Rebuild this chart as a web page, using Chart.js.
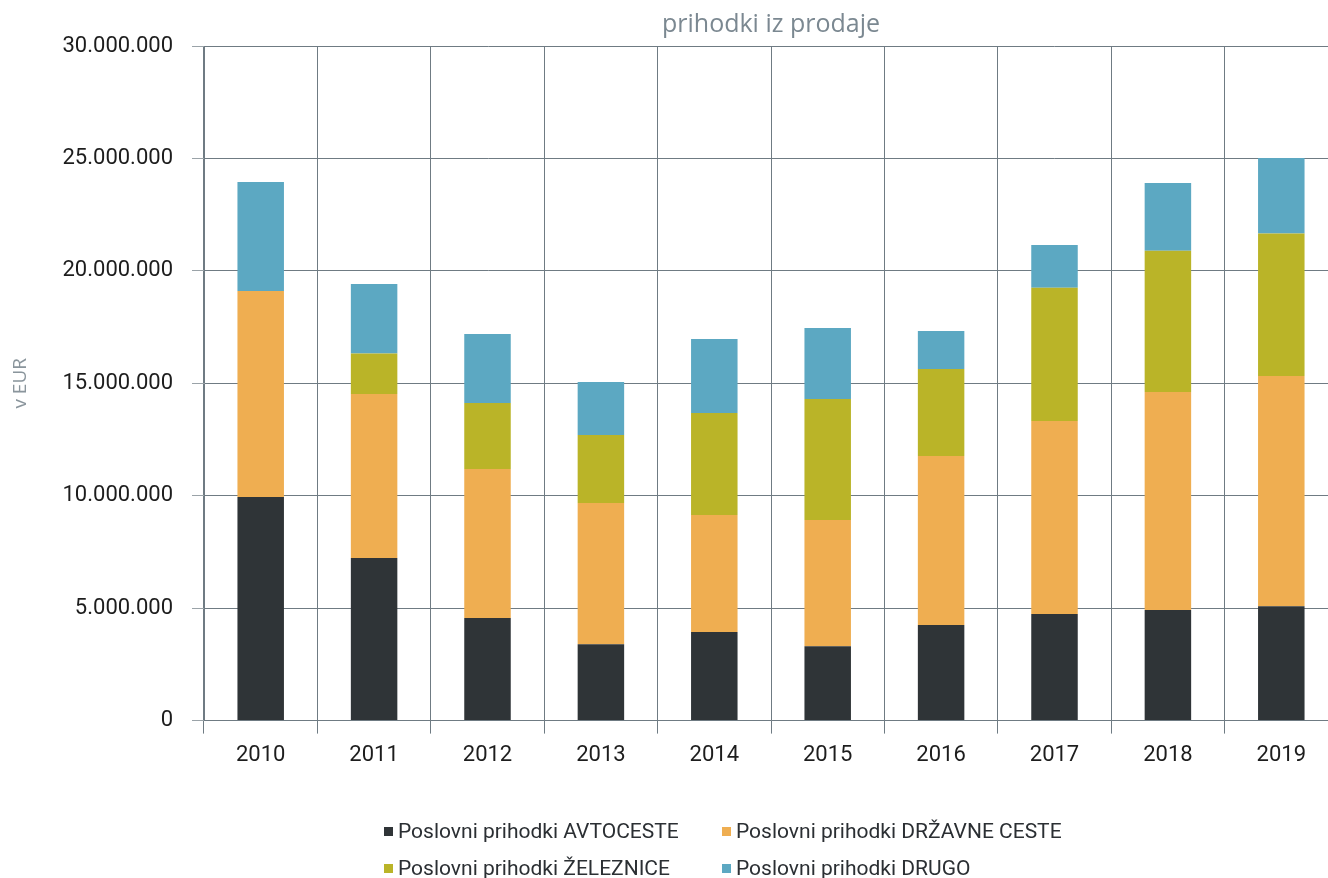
<!DOCTYPE html>
<html>
<head>
<meta charset="utf-8">
<script src="https://cdn.jsdelivr.net/npm/chart.js@4"></script>
<style>
  html, body { margin: 0; padding: 0; background: #fff; overflow: hidden; }
  #wrap { position: relative; width: 1340px; height: 878px; }
  #legend { position: absolute; left: 0; top: 0; width: 100%; height: 100%; pointer-events: none;
            font-family: Roboto, sans-serif; font-size: 21px; color: #2b2f33; }
  .li { position: absolute; display: flex; align-items: center; white-space: nowrap; height: 24px; }
  .li span.box { width: 9px; height: 9px; margin-right: 5px; display: inline-block; }
</style>
</head>
<body>
<div id="wrap">
  <canvas id="prodajaChart" width="1340" height="878"></canvas>
  <div id="legend"></div>
</div>
<script>
const years = ["2010", "2011", "2012", "2013", "2014", "2015", "2016", "2017", "2018", "2019"];
const avtoceste = [9940000, 7230000, 4560000, 3400000, 3940000, 3310000, 4250000, 4740000, 4920000, 5090000];
const drzavneCeste = [9170000, 7290000, 6630000, 6280000, 5200000, 5610000, 7520000, 8580000, 9690000, 10230000];
const zeleznice = [0, 1800000, 2930000, 3020000, 4540000, 5380000, 3870000, 5930000, 6280000, 6340000];
const drugo = [4840000, 3100000, 3070000, 2360000, 3290000, 3160000, 1690000, 1900000, 3020000, 3360000];
const seriesNames = [
  "Poslovni prihodki AVTOCESTE",
  "Poslovni prihodki DRŽAVNE CESTE",
  "Poslovni prihodki ŽELEZNICE",
  "Poslovni prihodki DRUGO"
];
const seriesColors = ["#2f3437", "#efae51", "#bab428", "#5ca8c2"];

const gridColor = "#6f7b83";

function fmt(v) {
  return String(v).replace(/\B(?=(\d{3})+(?!\d))/g, ".");
}

const seriesData = [avtoceste, drzavneCeste, zeleznice, drugo];
const datasets = seriesNames.map((name, i) => ({
  label: name,
  data: seriesData[i],
  backgroundColor: seriesColors[i],
  borderWidth: 0,
  barPercentage: 0.41,
  categoryPercentage: 1
}));

const ctx = document.getElementById("prodajaChart").getContext("2d");
const chart = new Chart(ctx, {
  type: "bar",
  data: { labels: years, datasets },
  options: {
    responsive: false,
    animation: false,
    layout: { padding: { left: 0, right: 2, top: 0, bottom: 100 } },
    scales: {
      x: {
        stacked: true,
        grid: { color: gridColor, lineWidth: 1, tickLength: 13, tickColor: gridColor, offset: true },
        border: { color: gridColor },
        ticks: { color: "#1d1d1d", font: { family: "Roboto", size: 22 }, padding: 9 }
      },
      y: {
        stacked: true,
        min: 0,
        max: 30000000,
        afterFit: (s) => { s.width = 204; },
        grid: { color: gridColor, lineWidth: 1, tickLength: 12, tickColor: "#9aa3a8" },
        border: { color: gridColor },
        ticks: {
          stepSize: 5000000,
          color: "#1d1d1d",
          font: { family: "Roboto", size: 22 },
          padding: 19,
          callback: (v) => fmt(v)
        },
        title: {
          display: true,
          text: "v EUR",
          color: "#8a959c",
          font: { family: "Open Sans", size: 19 },
          padding: { top: 9, bottom: 0 }
        }
      }
    },
    plugins: {
      legend: { display: false },
      tooltip: { enabled: false },
      title: {
        display: true,
        text: "prihodki iz prodaje",
        color: "#7b8891",
        fullSize: false,
        font: { family: "Open Sans", size: 25, weight: "normal" },
        padding: { top: 10, bottom: 6 }
      }
    }
  }
});

// legend in two aligned columns, built from the chart datasets
const legendEl = document.getElementById("legend");
const colX = [384, 722];
const rowY = [831, 868];
chart.data.datasets.forEach((ds, i) => {
  const item = document.createElement("div");
  item.className = "li";
  item.style.left = colX[i % 2] + "px";
  item.style.top = (rowY[Math.floor(i / 2)] - 12) + "px";
  const box = document.createElement("span");
  box.className = "box";
  box.style.background = ds.backgroundColor;
  const txt = document.createElement("span");
  txt.textContent = ds.label;
  item.appendChild(box);
  item.appendChild(txt);
  legendEl.appendChild(item);
});
</script>
</body>
</html>
